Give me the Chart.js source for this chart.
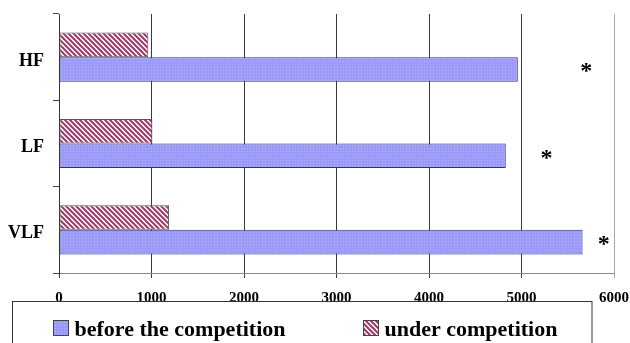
<!DOCTYPE html>
<html>
<head>
<meta charset="utf-8">
<script src="https://cdn.jsdelivr.net/npm/chart.js@4"></script>
<style>
  html, body { margin: 0; padding: 0; background: #fff; }
  #wrap { position: relative; width: 630px; height: 343px; overflow: hidden; }
</style>
</head>
<body>
<div id="wrap"><canvas id="c" width="630" height="343"></canvas></div>
<script>
// Spectral power bands
const categories = ['HF', 'LF', 'VLF'];
const underCompetition = [965, 1010, 1190];
const beforeCompetition = [4960, 4830, 5660];
// Where the significance asterisk sits on the value axis for each band
const significanceAt = [5700, 5270, 5890];
const xTicks = [0, 1000, 2000, 3000, 4000, 5000, 6000];

function dottedBlue() {
  const t = document.createElement('canvas');
  t.width = 3; t.height = 3;
  const g = t.getContext('2d');
  g.fillStyle = '#9a9af8';
  g.fillRect(0, 0, 3, 3);
  g.fillStyle = '#b4b4fc';
  g.fillRect(1, 1, 1, 1);
  return g.createPattern(t, 'repeat');
}

function hatchRed() {
  const s = 5;
  const t = document.createElement('canvas');
  t.width = s; t.height = s;
  const g = t.getContext('2d');
  g.fillStyle = '#ffffff';
  g.fillRect(0, 0, s, s);
  g.strokeStyle = '#9c3a6a';
  g.lineWidth = 2;
  g.beginPath();
  g.moveTo(-s, 0); g.lineTo(2 * s, 3 * s);
  g.moveTo(0, -s); g.lineTo(s * 2, s);
  g.moveTo(-s, -s); g.lineTo(s * 2, s * 2);
  g.moveTo(-2 * s, -s); g.lineTo(s, 2 * s);
  g.stroke();
  return g.createPattern(t, 'repeat');
}

const blueFill = dottedBlue();
const redFill = hatchRed();

// Boxed legend along the bottom edge
const boxedLegend = {
  id: 'boxedLegend',
  afterDraw(chart) {
    const ctx = chart.ctx;
    ctx.save();
    ctx.fillStyle = '#fff';
    ctx.fillRect(13, 302, 579, 60);
    ctx.strokeStyle = '#333';
    ctx.lineWidth = 1;
    ctx.strokeRect(12.5, 301.5, 579.5, 60);
    const items = chart.data.datasets.slice().reverse();
    const columns = [53.5, 363.5];
    ctx.font = 'bold 22px "Liberation Serif", "Times New Roman", serif';
    ctx.textBaseline = 'alphabetic';
    ctx.textAlign = 'left';
    items.forEach((ds, i) => {
      const x = columns[i];
      ctx.fillStyle = ds.backgroundColor;
      ctx.fillRect(x, 320.5, 15, 15);
      ctx.strokeStyle = '#444';
      ctx.strokeRect(x, 320.5, 15, 15);
      ctx.fillStyle = '#000';
      ctx.fillText(ds.label, x + 21, 336);
    });
    ctx.restore();
  }
};

// Significance asterisks beside the "before" bars
const asterisks = {
  id: 'asterisks',
  afterDatasetsDraw(chart) {
    const ctx = chart.ctx;
    const meta = chart.getDatasetMeta(1);
    ctx.save();
    ctx.fillStyle = '#000';
    ctx.font = 'bold 24px "Liberation Serif", serif';
    ctx.textAlign = 'center';
    ctx.textBaseline = 'alphabetic';
    significanceAt.forEach((v, i) => {
      const x = chart.scales.x.getPixelForValue(v);
      const y = meta.data[i].y;
      ctx.fillText('*', x, y + 9);
    });
    ctx.restore();
  }
};

new Chart(document.getElementById('c'), {
  type: 'bar',
  data: {
    labels: categories,
    datasets: [
      {
        label: 'under competition',
        data: underCompetition,
        backgroundColor: redFill,
        borderColor: '#555',
        borderWidth: 1,
        borderSkipped: false
      },
      {
        label: 'before the competition',
        data: beforeCompetition,
        backgroundColor: blueFill,
        borderColor: '#2e2e80',
        borderWidth: 1,
        borderSkipped: false
      }
    ]
  },
  options: {
    indexAxis: 'y',
    responsive: false,
    animation: false,
    layout: { padding: { left: 0, top: 14, right: 16, bottom: 40 } },
    datasets: { bar: { categoryPercentage: 0.57, barPercentage: 1.0 } },
    plugins: {
      legend: { display: false },
      tooltip: { enabled: false }
    },
    scales: {
      x: {
        min: 0,
        max: 6000,
        afterBuildTicks(scale) { scale.ticks = xTicks.map(v => ({ value: v })); },
        afterFit(scale) {
          scale.height = 30;
          scale.paddingLeft = 0;
          scale.paddingRight = 0;
        },
        grid: {
          color: ctx => (ctx.tick && ctx.tick.value === 6000) ? '#a8a8a8' : '#3a3a3a',
          lineWidth: 1,
          drawTicks: true,
          tickLength: 5
        },
        border: { display: true, color: '#8a8a8a' },
        ticks: {
          color: '#000',
          padding: 11,
          maxRotation: 0,
          callback: v => String(v),
          font: { family: '"Liberation Serif", "Times New Roman", serif', weight: 'bold', size: 15 }
        }
      },
      y: {
        afterFit(scale) {
          scale.width = 59;
          scale.paddingTop = 0;
          scale.paddingBottom = 0;
        },
        grid: {
          offset: true,
          drawOnChartArea: false,
          drawTicks: true,
          tickLength: 6,
          color: '#444'
        },
        border: { display: true, color: '#333' },
        ticks: {
          color: '#000',
          padding: 9,
          labelOffset: 4,
          font: { family: '"Liberation Serif", "Times New Roman", serif', weight: 'bold', size: 18 }
        }
      }
    }
  },
  plugins: [asterisks, boxedLegend]
});
</script>
</body>
</html>
